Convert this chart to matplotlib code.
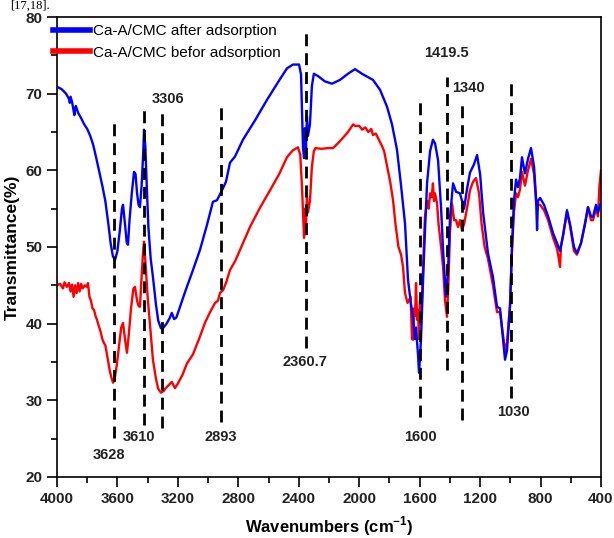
import matplotlib
matplotlib.use("Agg")
import matplotlib.pyplot as plt
from matplotlib.ticker import MultipleLocator

# spectrum after adsorption (blue)
wn_after = [4000, 3970, 3940, 3920, 3915, 3910, 3900, 3885, 3880, 3875, 3860, 3840, 3820, 3800,
            3780, 3760, 3740, 3720, 3700, 3680, 3660, 3645, 3630, 3616, 3600, 3585, 3570, 3563,
            3550, 3538, 3530, 3520, 3505, 3490, 3480, 3470, 3460, 3451, 3440, 3430, 3424, 3415,
            3405, 3395, 3380, 3365, 3345, 3330, 3312, 3295, 3275, 3255, 3240, 3225, 3210, 3153,
            3100, 3054, 3007, 2968, 2941, 2908, 2882, 2855, 2822, 2769, 2690, 2610, 2537, 2478,
            2438, 2398, 2385, 2379, 2372, 2365, 2359, 2352, 2346, 2339, 2326, 2313, 2300, 2273,
            2227, 2180, 2127, 2074, 2028, 1982, 1909, 1862, 1816, 1783, 1750, 1723, 1697, 1677,
            1657, 1644, 1631, 1624, 1611, 1604, 1591, 1578, 1565, 1551, 1531, 1512, 1498, 1478,
            1458, 1445, 1426, 1412, 1399, 1379, 1359, 1333, 1306, 1287, 1267, 1240, 1220, 1200,
            1180, 1148, 1115, 1088, 1068, 1048, 1035, 1022, 1002, 989, 976, 962, 949, 936, 923,
            903, 883, 863, 843, 830, 823, 817, 803, 777, 750, 717, 691, 671, 651, 625, 605, 579,
            559, 532, 506, 486, 466, 453, 433, 420, 406, 400]
t_after = [70.9, 70.6, 70.0, 69.3, 68.8, 69.6, 68.9, 67.2, 68.0, 68.4, 67.5, 66.8, 66.0, 65.4,
           64.5, 63.3, 61.6, 59.8, 58.0, 56.0, 53.0, 50.5, 48.8, 48.3, 49.5, 52.0, 55.0, 55.5,
           53.0, 50.5, 50.3, 53.5, 57.0, 59.8, 59.5, 57.0, 55.5, 55.2, 58.0, 62.0, 65.3, 63.0,
           57.5, 52.6, 48.5, 46.1, 42.5, 40.4, 39.4, 39.5, 40.0, 40.7, 41.4, 40.6, 40.8, 44.1,
           47.0, 49.6, 52.9, 55.9, 56.1, 57.4, 58.5, 61.0, 61.8, 64.0, 66.5, 69.2, 71.5, 73.3,
           73.8, 73.8, 72.5, 68.0, 63.0, 61.6, 65.5, 63.0, 67.0, 64.5, 66.0, 71.0, 72.6, 72.3,
           71.6, 71.3, 71.8, 72.6, 73.2, 72.6, 71.8, 70.5, 68.3, 66.0, 62.7, 58.0, 53.1, 45.7,
           42.5, 40.9, 38.0, 39.5, 36.0, 33.6, 38.0, 45.3, 52.0, 58.3, 62.5, 64.0, 63.5, 61.3,
           55.0, 49.6, 43.5, 47.0, 53.9, 58.3, 57.2, 57.0, 55.0, 57.5, 59.7, 60.8, 62.0, 59.5,
           54.5, 49.2, 46.1, 42.2, 42.0, 38.0, 35.3, 36.5, 42.2, 50.0, 56.0, 58.8, 57.8, 59.0,
           61.7, 59.6, 61.5, 62.9, 60.5, 56.5, 52.2, 56.0, 56.4, 55.5, 54.0, 51.8, 50.5, 49.5,
           51.5, 54.8, 53.0, 50.0, 49.2, 50.5, 53.0, 55.2, 54.0, 53.9, 55.5, 54.5, 55.5, 55.7]

# spectrum before adsorption (red)
wn_before = [4000, 3980, 3960, 3950, 3935, 3920, 3910, 3900, 3890, 3880, 3870, 3860, 3850, 3840,
             3830, 3815, 3800, 3795, 3785, 3775, 3765, 3755, 3745, 3735, 3725, 3712, 3700, 3690,
             3680, 3665, 3650, 3640, 3629, 3620, 3605, 3590, 3575, 3563, 3550, 3537, 3525, 3510,
             3495, 3484, 3470, 3460, 3451, 3440, 3430, 3424, 3418, 3410, 3400, 3385, 3365, 3345,
             3330, 3312, 3295, 3280, 3260, 3240, 3225, 3219, 3200, 3170, 3140, 3100, 3054, 3021,
             2987, 2954, 2935, 2921, 2900, 2880, 2855, 2820, 2780, 2723, 2660, 2590, 2530, 2478,
             2440, 2405, 2390, 2379, 2372, 2365, 2359, 2352, 2346, 2339, 2326, 2313, 2300, 2290,
             2250, 2210, 2173, 2127, 2074, 2040, 2028, 2000, 1980, 1960, 1940, 1920, 1909, 1890,
             1870, 1850, 1835, 1815, 1795, 1776, 1760, 1740, 1723, 1710, 1697, 1680, 1660, 1650,
             1644, 1637, 1630, 1624, 1617, 1611, 1604, 1598, 1591, 1578, 1565, 1550, 1540, 1531,
             1520, 1512, 1505, 1498, 1485, 1475, 1458, 1445, 1432, 1419, 1410, 1399, 1386, 1372,
             1359, 1346, 1333, 1320, 1306, 1287, 1267, 1247, 1227, 1207, 1190, 1170, 1148, 1115,
             1088, 1068, 1048, 1035, 1022, 1002, 989, 976, 962, 949, 936, 923, 903, 883, 863, 843,
             830, 817, 803, 777, 750, 717, 691, 680, 671, 665, 651, 625, 605, 579, 559, 532, 506,
             486, 466, 453, 433, 420, 410, 400]
t_before = [45.0, 45.2, 44.6, 45.4, 44.8, 45.3, 44.2, 45.1, 43.5, 45.0, 44.0, 45.3, 44.2, 45.2,
            44.6, 45.0, 44.8, 45.3, 43.5, 43.0, 42.0, 41.8, 41.0, 40.5, 39.8, 39.0, 38.0, 37.5,
            37.2, 35.5, 33.8, 33.0, 32.3, 32.6, 34.5, 37.0, 39.5, 40.1, 38.0, 36.2, 38.5, 42.0,
            44.5, 44.8, 43.0, 42.3, 42.2, 46.0, 49.5, 50.7, 49.0, 46.5, 43.5, 40.0, 35.3, 32.8,
            31.5, 31.0, 31.2, 31.6, 32.0, 32.4, 31.8, 31.6, 32.2, 33.3, 34.8, 36.0, 38.3, 40.1,
            41.5, 42.7, 43.0, 44.0, 44.4, 45.4, 47.0, 48.2, 50.0, 52.6, 55.0, 57.4, 59.5, 61.7,
            62.6, 63.0, 62.0, 58.0, 54.5, 51.2, 55.0, 53.0, 56.5, 54.5, 56.0, 60.5, 62.5, 62.9,
            62.8, 62.9, 62.9, 63.8, 65.0, 66.0, 65.8, 65.8, 65.3, 65.6, 65.0, 65.4, 64.6, 64.8,
            64.0, 63.2, 62.5, 60.5, 58.5, 56.1, 53.0, 50.0, 49.0, 47.4, 44.0, 42.7, 43.5, 38.0,
            37.9, 42.0, 41.0, 45.3, 40.5, 41.8, 38.0, 43.0, 40.0, 47.0, 53.9, 56.0, 55.0, 57.0,
            56.5, 58.3, 56.0, 57.0, 55.7, 53.0, 50.0, 47.4, 43.0, 40.9, 45.0, 52.0, 55.7, 53.5,
            53.5, 52.6, 53.5, 52.2, 53.0, 55.0, 57.4, 58.5, 59.0, 57.0, 53.0, 50.0, 48.5, 45.0,
            41.5, 41.5, 38.5, 36.5, 37.5, 42.5, 49.5, 54.5, 57.0, 56.5, 57.5, 59.8, 58.0, 60.0,
            61.5, 59.5, 56.0, 55.5, 55.5, 54.8, 53.5, 51.2, 49.8, 48.6, 47.4, 50.0, 51.5, 54.5,
            52.8, 49.5, 49.0, 50.5, 53.0, 55.2, 53.5, 53.5, 55.0, 54.0, 58.0, 60.0]

# marked bands: line position, line top/bottom, label text and label position
band_pos = [3623, 3424, 3305, 2915, 2352, 1598, 1419, 1320, 995]
band_top = [66.3, 68.1, 67.9, 68.9, 78.3, 69.4, 72.2, 68.9, 71.8]
band_bottom = [25.1, 26.8, 26.4, 27.2, 36.8, 27.8, 34.0, 27.4, 30.3]
band_labels = ["3628", "3610", "3306", "2893", "2360.7", "1600", "1419.5", "1340", "1030"]
label_x = [3656, 3457, 3265, 2915, 2359, 1598, 1426, 1280, 982]
label_y = [22.9, 25.2, 69.3, 25.2, 35.0, 25.2, 75.3, 70.7, 28.5]

bold = {"family": ["Liberation Sans", "DejaVu Sans"], "weight": "bold"}
narrow = {"family": ["Liberation Sans Narrow", "Liberation Sans", "DejaVu Sans"], "weight": "bold"}

fig = plt.figure(figsize=(6.14, 5.38), dpi=100)
ax = fig.add_axes([0.0928, 0.1134, 0.886, 0.855])

ax.plot(wn_after, t_after, color="#0000ff", lw=1.7, label="Ca-A/CMC after adsorption", zorder=3)
ax.plot(wn_before, t_before, color="#ff0000", lw=1.7, label="Ca-A/CMC befor adsorption", zorder=2)

for x, y0, y1 in zip(band_pos, band_bottom, band_top):
    ax.plot([x, x], [y0, y1], color="black", lw=2.0, ls=(0, (4.3, 2.5)), zorder=4)
for txt, x, y in zip(band_labels, label_x, label_y):
    ax.text(x, y, txt, ha="center", va="center", fontsize=10.5, color="#222222", **narrow)

ax.set_xlim(4000, 400)
ax.set_ylim(20, 80)
ax.xaxis.set_major_locator(MultipleLocator(400))
ax.xaxis.set_minor_locator(MultipleLocator(200))
ax.yaxis.set_major_locator(MultipleLocator(10))
ax.yaxis.set_minor_locator(MultipleLocator(5))
ax.tick_params(which="major", direction="out", length=7, width=1.2, top=False, right=False)
ax.tick_params(which="minor", direction="out", length=4, width=1.2, top=False, right=False)
for lab in ax.get_xticklabels() + ax.get_yticklabels():
    lab.set_fontsize(11)
    lab.set_fontfamily(bold["family"])
    lab.set_fontweight("bold")
    lab.set_color("#222222")
for sp in ax.spines.values():
    sp.set_linewidth(1.2)

ax.set_xlabel("Wavenumbers (cm$^{\\mathregular{-1}}$)", fontsize=12, labelpad=6, **narrow)
ax.set_ylabel("Transmittance(%)", fontsize=12.5, labelpad=4, **bold)

leg = ax.legend(loc="upper left", bbox_to_anchor=(-0.0074, 0.985), frameon=False,
                borderaxespad=0, borderpad=0, handlelength=2.4, handletextpad=0.2,
                labelspacing=0.5, prop={"family": ["Liberation Sans", "DejaVu Sans"], "size": 11})
for line in leg.get_lines():
    line.set_linewidth(4)

# piece of the surrounding page text at the top edge
fig.text(0.016, 0.983, "[17,18].", fontsize=9, va="baseline", ha="left",
         family=["Liberation Serif", "DejaVu Serif"])

fig.savefig("out.png", dpi=100)
